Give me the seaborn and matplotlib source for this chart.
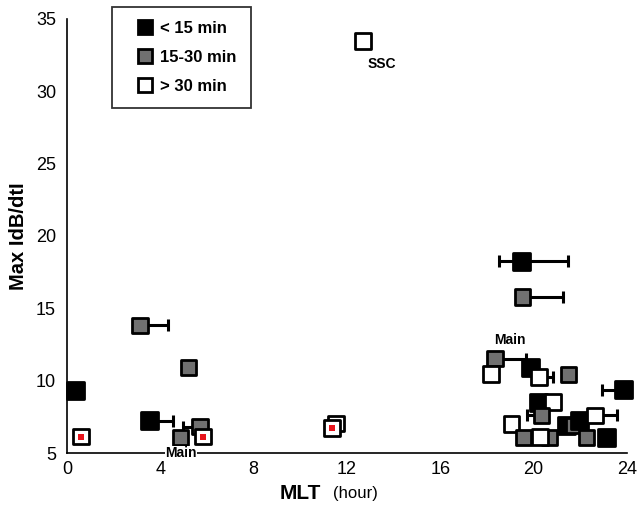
import numpy as np
import pandas as pd
import matplotlib
matplotlib.use("Agg")
import matplotlib.pyplot as plt
from matplotlib.lines import Line2D
import seaborn as sns

# ---- data ----
mlt = [0.34, 3.13, 5.19, 3.53, 4.85, 5.70, 0.60, 5.83, 11.53, 11.36, 12.69,
       19.47, 19.53, 18.35, 18.17, 19.87, 20.24, 21.49, 23.87,
       20.20, 20.84, 20.34, 19.06, 19.56, 20.70, 20.27, 21.41, 21.70, 21.99,
       22.63, 22.27, 23.13]
dbdt = [9.33, 13.82, 10.92, 7.25, 6.07, 6.83, 6.14, 6.14, 7.05, 6.76, 33.48,
        18.27, 15.78, 11.52, 10.48, 10.90, 10.25, 10.43, 9.37,
        8.52, 8.52, 7.60, 7.02, 6.10, 6.10, 6.10, 6.90, 6.90, 7.25,
        7.60, 6.10, 6.10]
group = ["< 15 min", "15-30 min", "15-30 min", "< 15 min", "15-30 min", "15-30 min",
         "> 30 min", "> 30 min", "> 30 min", "> 30 min", "> 30 min",
         "< 15 min", "15-30 min", "15-30 min", "> 30 min", "< 15 min", "> 30 min",
         "15-30 min", "< 15 min",
         "< 15 min", "> 30 min", "15-30 min", "> 30 min", "15-30 min", "15-30 min",
         "> 30 min", "< 15 min", "15-30 min", "< 15 min", "> 30 min", "15-30 min",
         "< 15 min"]
err_lo = [0, 0, 0, 0, 0, 0.73, 0, 0, 0, 0, 0,
          0.94, 0, 0, 0, 0, 0, 0, 0.95,
          0, 0, 0.64, 0, 0, 0, 0, 0, 0, 0, 0, 0, 0]
err_hi = [0, 1.20, 0, 1.02, 0, 0, 0, 0, 0, 0, 0,
          2.02, 1.72, 1.32, 0, 0, 0.60, 0, 0,
          0, 0, 0, 0, 0, 0, 0, 0, 0, 0, 0.93, 0, 0]
red_x = [0.60, 5.83, 11.36]
red_y = [6.14, 6.14, 6.76]
categories = ["< 15 min", "15-30 min", "> 30 min"]
x_ticks = [0, 4, 8, 12, 16, 20, 24]
y_ticks = [5, 10, 15, 20, 25, 30, 35]
notes = [("Main", 4.89, 5.0), ("Main", 18.99, 12.8), ("SSC", 13.5, 31.9)]

df = pd.DataFrame({"MLT": mlt, "dbdt": dbdt, "group": group})
palette = {"< 15 min": "#000000", "15-30 min": "#707070", "> 30 min": "#ffffff"}
sizes_px = {"< 15 min": 17.0, "15-30 min": 15.2, "> 30 min": 15.7}

sns.set_style("white")
plt.rcParams["font.family"] = ["Liberation Sans", "DejaVu Sans"]
plt.rcParams["text.color"] = "black"
plt.rcParams["xtick.color"] = "black"
plt.rcParams["ytick.color"] = "black"
plt.rcParams["axes.labelcolor"] = "black"

fig = plt.figure(figsize=(6.39, 5.08), dpi=100)
ax = fig.add_axes([0.105, 0.108, 0.876, 0.855])

# error bars (behind markers)
xerr = np.array([err_lo, err_hi])
mask = (xerr.sum(axis=0) > 0)
ax.errorbar(np.array(mlt)[mask], np.array(dbdt)[mask], xerr=xerr[:, mask],
            fmt="none", ecolor="black", elinewidth=2.2, capsize=4.5, capthick=2.2,
            zorder=1)

s_vals = [(sizes_px[g] * 0.72) ** 2 for g in group]
sns.scatterplot(data=df, x="MLT", y="dbdt", hue="group", palette=palette,
                hue_order=categories, marker="s", s=s_vals, edgecolor="black",
                linewidth=2.0, legend=False, ax=ax, zorder=3, clip_on=False)
ax.scatter(red_x, red_y, marker="s", s=(6 * 0.72) ** 2, color="#e8141c",
           linewidths=0, zorder=4)

for txt, x, y in notes:
    kw = dict(bbox=dict(facecolor="white", edgecolor="none", pad=0.3)) if y <= 5 else {}
    ax.text(x, y, txt, ha="center", va="center", fontsize=10, fontweight="bold",
            zorder=5, clip_on=False, **kw)

ax.set_xlim(0, 24)
ax.set_ylim(5, 35)
ax.set_xticks(x_ticks)
ax.set_yticks(y_ticks)
ax.tick_params(direction="in", length=4, width=1.2, labelsize=13)
ax.tick_params(axis="y", pad=8)
ax.tick_params(axis="x", pad=6)
for sp in ["top", "right"]:
    ax.spines[sp].set_visible(False)
for sp in ["left", "bottom"]:
    ax.spines[sp].set_linewidth(1.2)
    ax.spines[sp].set_color("black")
    ax.spines[sp].set_zorder(0)

ax.set_xlabel("")
ax.set_ylabel("Max IdB/dtI", fontsize=14.5, fontweight="bold", labelpad=6)
ax.text(0.416, -0.094, "MLT", transform=ax.transAxes, ha="center", va="center",
        fontsize=15, fontweight="bold")
ax.text(0.475, -0.094, "(hour)", transform=ax.transAxes, ha="left", va="center",
        fontsize=12)

handles = [Line2D([], [], linestyle="none", marker="s", markersize=10.5,
                  markerfacecolor=palette[c], markeredgecolor="black",
                  markeredgewidth=2.0, label=c) for c in categories]
leg = ax.legend(handles=handles, loc="upper left", bbox_to_anchor=(0.080, 1.028),
                borderaxespad=0, fancybox=False, frameon=True, edgecolor="black",
                prop={"size": 12, "weight": "bold"}, labelspacing=0.85,
                handletextpad=-0.25, borderpad=0.85, handlelength=2.3)
leg.get_frame().set_linewidth(1.3)

fig.savefig("out.png", dpi=100)
